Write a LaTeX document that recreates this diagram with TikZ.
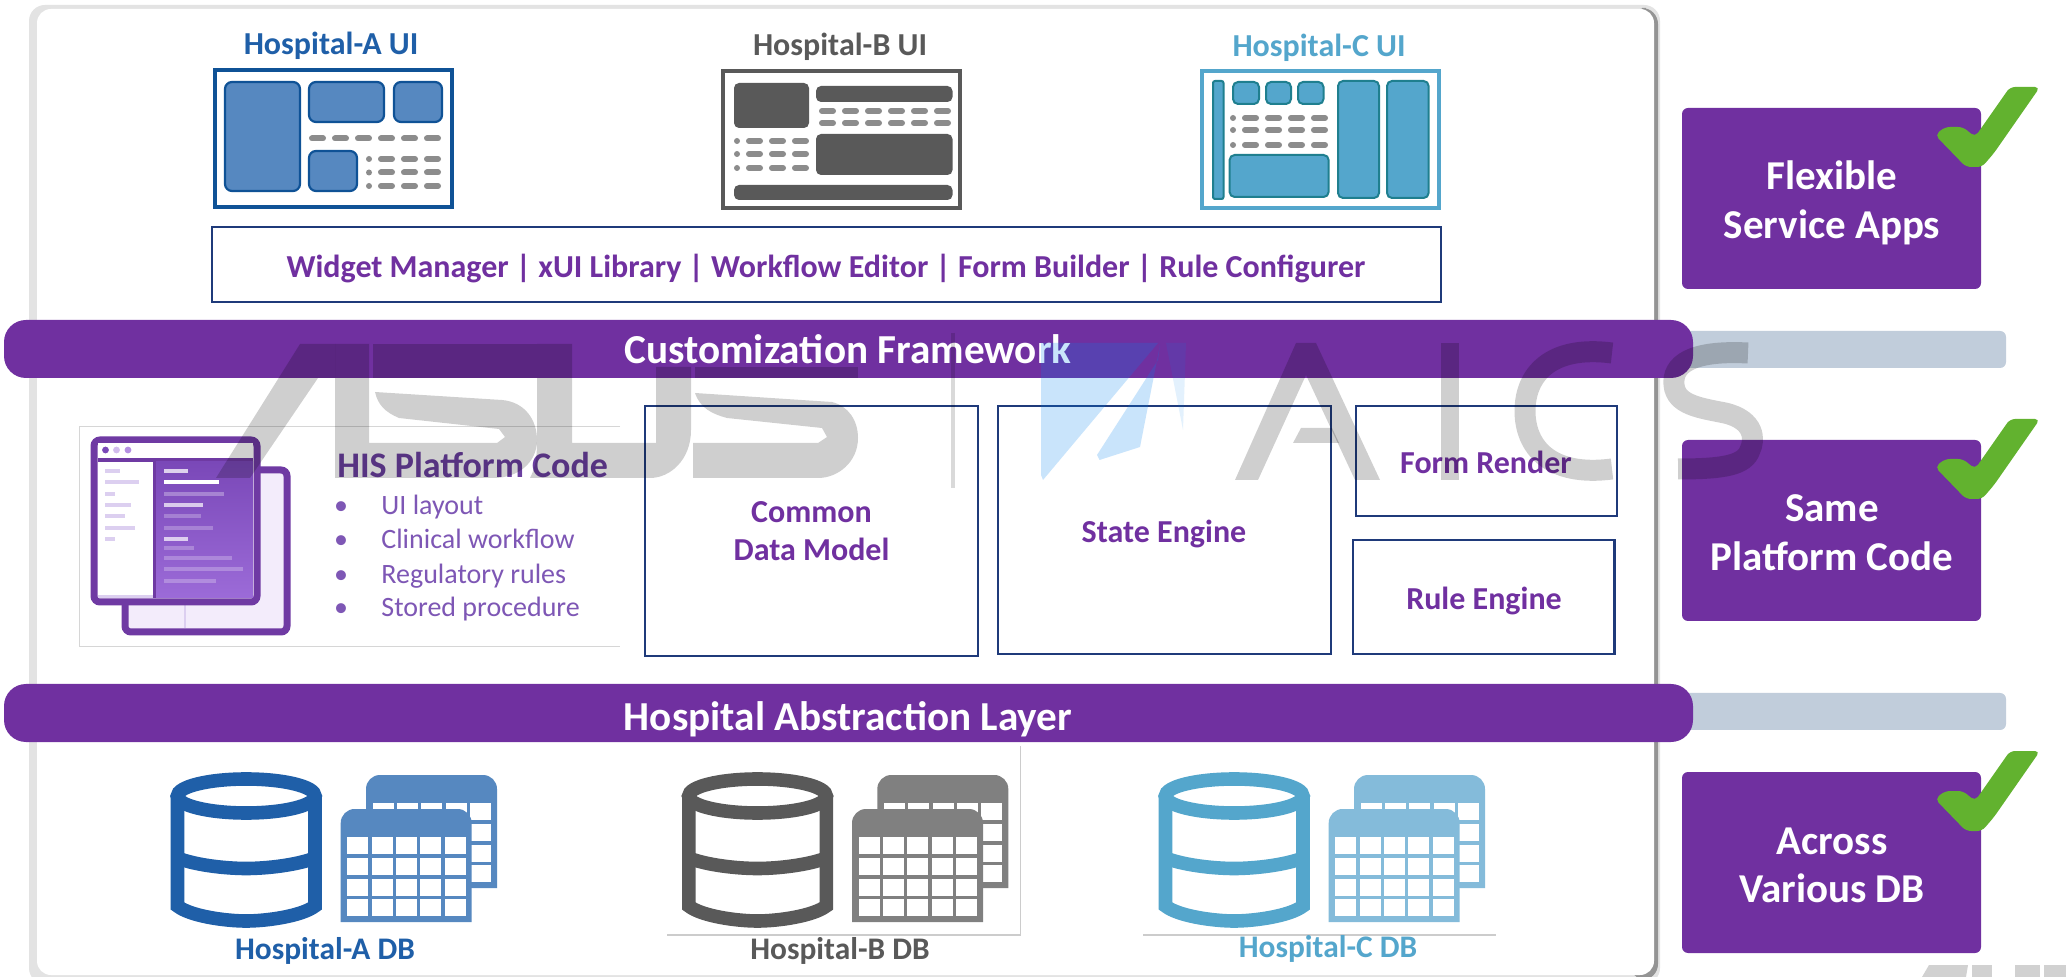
\documentclass[tikz,border=0pt]{standalone}
\usepackage{fontspec}
\setmainfont{Carlito}
\definecolor{hpurple}{HTML}{7030A0}
\definecolor{navy}{HTML}{1F3A7A}
\definecolor{hosA}{HTML}{1F5FA8}
\definecolor{hosAl}{HTML}{5688C0}
\definecolor{hosAs}{HTML}{0F5296}
\definecolor{hosB}{HTML}{595959}
\definecolor{hosBl}{HTML}{808080}
\definecolor{hosC}{HTML}{54A6CC}
\definecolor{hosCl}{HTML}{84BBDA}
\definecolor{hosCs}{HTML}{1F7F8F}
\definecolor{dashgrey}{HTML}{8C8C8C}
\definecolor{barback}{HTML}{C1CDDB}
\definecolor{checkgreen}{HTML}{62B22F}
\definecolor{hisT}{HTML}{6B3FA0}
\definecolor{hisB}{HTML}{7E57B5}
\definecolor{winB}{HTML}{6F3AA3}
\definecolor{winBack}{HTML}{F3ECFB}
\definecolor{winTop}{HTML}{7A48B8}
\definecolor{winBot}{HTML}{9C6BD8}
\definecolor{winLine}{HTML}{DCCFF0}
\definecolor{wblue}{RGB}{0,131,240}
\newcommand{\fs}[1]{\fontsize{#1}{#1}\selectfont}
\newcommand{\dashrow}[3]{\foreach \xx in {#2}{\draw[dashline] (\xx+3,#1) -- (\xx+#3-3,#1);}}
\newcommand{\dbicon}[3]{%
 \begin{scope}[shift={(#1,0)}]
 \foreach \tx/\ty in {366/775,340.7/809}{
  \begin{scope}[shift={(\tx,\ty)}]
  \fill[#3] (0,113) [rounded corners=7pt] -- (0,0) -- (131,0) -- (131,50) [sharp corners] -- (131,113) -- cycle;
  \foreach \i in {0,...,4}{\foreach \j in {0,...,3}{
    \fill[white] (6.7+24.33*\i,28.3+20.6*\j) rectangle ++(21,17);}}
  \end{scope}}
 \draw[#2,line width=6.8pt] (246.2,796) ellipse [x radius=34.4pt,y radius=8.5pt];
 \draw[#2,line width=6.8pt] (177.5,796) -- (177.5,906) .. controls (190,916) and (225,921) .. (246.2,921) .. controls (267,921) and (302,916) .. (315,906) -- (315,796);
 \draw[#2,line width=6.8pt] (177.5,858) .. controls (195,865) and (225,868.5) .. (246.2,868.5) .. controls (267,868.5) and (297,865) .. (315,858);
 \end{scope}}
\newcommand{\checkmk}[1]{%
 \fill[checkgreen,shift={(0,#1)},rounded corners=2.5pt] (1935,135) -- (1945,127) -- (1963,127) -- (1975,137) -- (2010,87) -- (2040,87) -- (1994,153) -- (1982,167) -- (1966,167) -- cycle;}
\tikzset{
 x=0.5pt,y=-0.5pt,
 dashline/.style={dashgrey,line width=3pt,line cap=round},
 dotm/.style={dashgrey},
 uiframe/.style={line width=1.6pt,fill=white},
 blockA/.style={fill=hosAl,draw=hosAs,line width=1.1pt,rounded corners=3.5pt},
 blockB/.style={fill=hosB,rounded corners=2.5pt},
 blockC/.style={fill=hosC,draw=hosCs,line width=1pt,rounded corners=2.5pt},
 layerbox/.style={draw=navy,line width=1.2pt},
 boxtxt/.style={hpurple,font=\bfseries\fs{16},anchor=base,inner sep=0pt,yshift=-.5pt},
 banner/.style={fill=hpurple,rounded corners=11pt},
 bartxt/.style={white,font=\bfseries\fs{20.6},anchor=base,inner sep=0pt,yshift=-1pt},
 sidebox/.style={fill=hpurple,rounded corners=3pt},
 sidetxt/.style={white,font=\bfseries\fs{20.5},anchor=base,inner sep=0pt,yshift=-1pt},
 huititle/.style={font=\bfseries\fs{16},anchor=base,inner sep=0pt},
 dbtxt/.style={font=\bfseries\fs{15.7},anchor=base,inner sep=0pt},
 histxt/.style={hisB,font=\fs{14},anchor=base west,inner sep=0pt},
 hisbul/.style={hisB,font=\fs{14},anchor=base,inner sep=0pt},
 wmark/.style={fill=black,fill opacity=.19},
 wstroke/.style={draw=black,draw opacity=.19,line width=10.5pt},
 cardline/.style={draw=black!16,line width=.5pt},
}
\begin{document}
\begin{tikzpicture}
\useasboundingbox (0,0) rectangle (2066,977);
\fill[white] (0,0) rectangle (2066,977);
% panel
\fill[black!11,rounded corners=8pt] (29,5) rectangle (1660,984);
\fill[black!42,rounded corners=8pt] (1630,8) rectangle (1658,980);
\fill[white,rounded corners=7pt] (37,9) rectangle (1654,975);
% grey bars
\fill[barback,rounded corners=3pt] (1600,331) rectangle (2006,368);
\fill[barback,rounded corners=3pt] (1600,693) rectangle (2006,730);
% banners
\fill[banner] (4,320) rectangle (1693,378);
\fill[banner] (4,684) rectangle (1693,742);
\node[bartxt] (customtxt) at (848,362) {Customization Framework};
\node[bartxt] (abstxt) at (848,729) {Hospital Abstraction Layer};
% Hospital A UI
\node[huititle,hosA] (uiA) at (331,55) {Hospital-A UI};
\draw[uiframe,draw=hosAs] (215,70) rectangle (452,207);
\draw[blockA] (225,82) rectangle (300,191);
\draw[blockA] (309,82) rectangle (384,122);
\draw[blockA] (394,82) rectangle (442,122);
\draw[blockA] (309,151) rectangle (357,191);
\dashrow{138.5}{309,332,355,378,401,424}{17}
\foreach \yy in {159,172.5,186}{\fill[dotm] (369,\yy) circle (1.5pt);\dashrow{\yy}{378,401,424}{17}}
% Hospital B UI
\node[huititle,hosB] (uiB) at (840,56) {Hospital-B UI};
\draw[uiframe,draw=hosB] (723,71) rectangle (960,208);
\fill[blockB] (734,83) rectangle (809,128);
\fill[blockB] (816,86) rectangle (952.5,102);
\fill[blockB] (816,134) rectangle (952.5,175);
\fill[blockB] (734,185) rectangle (952.5,200);
\foreach \yy in {111,123}{\dashrow{\yy}{819,842,865,888,911,934}{17}}
\foreach \yy in {141,154,168}{\fill[dotm] (737,\yy) circle (1.5pt);\dashrow{\yy}{746,769,792}{17}}
% Hospital C UI
\node[huititle,hosC] (uiC) at (1319,57) {Hospital-C UI};
\draw[uiframe,draw=hosC] (1202,71) rectangle (1439,208);
\draw[blockC,rounded corners=1pt] (1213,81) rectangle (1223.5,199);
\draw[blockC] (1233,82) rectangle (1259,104);
\draw[blockC] (1266,82) rectangle (1291,104);
\draw[blockC] (1298,82) rectangle (1323.5,104);
\draw[blockC] (1229.6,155) rectangle (1328.6,197);
\draw[blockC] (1338,81) rectangle (1379,198);
\draw[blockC] (1387,81) rectangle (1428.6,198);
\foreach \yy in {118,130,145}{\fill[dotm] (1233,\yy) circle (1.5pt);\dashrow{\yy}{1242,1265,1288,1311}{17}}
% toolbar
\draw[layerbox] (212,227) rectangle (1441,302);
\node[boxtxt] (tools) at (826,277) {Widget Manager | xUI Library | Workflow Editor | Form Builder | Rule Configurer};
% HIS card
\draw[cardline] (620,427) -- (79,427) -- (79,647) -- (620,647);
\draw[winB,line width=3.5pt,fill=winBack,rounded corners=3pt] (125,470) rectangle (287,632);
\fill[winLine] (184,605) rectangle (186,628);
\draw[winB,line width=3.5pt,fill=white,rounded corners=3pt] (94,440) rectangle (257,602);
\fill[white] (97.5,443) rectangle (253,458);
\fill[winB] (97.5,458) rectangle (253,462);
\fill[white] (97.5,462) rectangle (153,595);
\fill[winLine] (97.5,595) rectangle (153,598);
\fill[winB] (153,462) rectangle (156,598);
\shade[top color=winTop,bottom color=winBot] (156,462) rectangle (253,598);
\fill[winTop] (105.5,450) circle (1.7pt);
\fill[winBot!45] (116.5,450) circle (1.7pt);
\fill[winBot!75] (128,450) circle (1.7pt);
\foreach \yy/\xe in {471/120,482/139,494/115,505/131,516/125,528/135,539/115}{\fill[winLine] (105,\yy-1.7) rectangle (\xe,\yy+1.7);}
\foreach \yy/\xe/\cc in {471/188/75,482/219/100,494/224/30,505/203/70,516/201/25,528/213/25,539/188/70,548/194/25,558/232/25,569/243/25,581/216/25}{\fill[white,opacity=\cc/100] (164,\yy-1.7) rectangle (\xe,\yy+1.7);}
\node[hisT,font=\bfseries\fs{18},anchor=base west,inner sep=0pt] (histitle) at (337,478) {HIS Platform Code};
\node[hisbul] (b1) at (341,515) {•};
\node[hisbul] (b2) at (341,549) {•};
\node[hisbul] (b3) at (341,584) {•};
\node[hisbul] (b4) at (341,617) {•};
\node[histxt] (his1) at (381,515) {UI layout};
\node[histxt] (his2) at (381,549) {Clinical workflow};
\node[histxt] (his3) at (381,584) {Regulatory rules};
\node[histxt] (his4) at (381,617) {Stored procedure};
% engines
\draw[layerbox] (645,406) rectangle (978,656);
\draw[layerbox] (998,406) rectangle (1331,654);
\draw[layerbox] (1356,406) rectangle (1617,516);
\draw[layerbox] (1353,540) rectangle (1614.5,654);
\node[boxtxt] (cm1) at (811.5,522) {Common};
\node[boxtxt] (cm2) at (811.5,560) {Data Model};
\node[boxtxt] (state) at (1164,542) {State Engine};
\node[boxtxt] (form) at (1486,473) {Form Render};
\node[boxtxt] (rule) at (1484,609) {Rule Engine};
% databases
\draw[black!20,line width=.6pt] (667,935) -- (1020.7,935) -- (1020.7,746);
\draw[black!20,line width=.6pt] (1143,935) -- (1496,935);
\dbicon{0}{hosA}{hosAl}
\dbicon{511.3}{hosB}{hosBl}
\dbicon{988}{hosC}{hosCl}
\node[dbtxt,hosA] (dbA) at (325,959) {Hospital-A DB};
\node[dbtxt,hosB] (dbB) at (840,959) {Hospital-B DB};
\node[dbtxt,hosC] (dbC) at (1328,957) {Hospital-C DB};
% side boxes
\fill[sidebox] (1682,108) rectangle (1981,289);
\fill[sidebox] (1682,440) rectangle (1981,621);
\fill[sidebox] (1682,772) rectangle (1981,953);
\checkmk{0}
\checkmk{332}
\checkmk{664}
\node[sidetxt] (s1a) at (1832,188) {Flexible};
\node[sidetxt] (s1b) at (1832,237) {Service Apps};
\node[sidetxt] (s2a) at (1832,520) {Same};
\node[sidetxt] (s2b) at (1832,569) {Platform Code};
\node[sidetxt] (s3a) at (1832,852) {Across};
\node[sidetxt] (s3b) at (1832,900) {Various DB};
% watermark
\fill[wmark] (216,478) -- (300,344) -- (335,344) -- (335,378) -- (318,378) -- (250,478) -- cycle;
\fill[wmark] (335,344) -- (369,344) -- (369,443) -- (497,443) -- (505,437) -- (499,429) -- (399,418) .. controls (385,412) and (378,405) .. (375,392) -- (502,400) .. controls (525,402) and (537,420) .. (537,440) .. controls (537,465) and (515,478) .. (494,478) -- (335,478) -- cycle;
\fill[wmark] (373,344) rectangle (537,378);
\fill[wmark] (537,344) -- (572,344) -- (572,443) -- (656,443) -- (656,367) -- (691,367) -- (691,430) .. controls (691,460) and (670,478) .. (650,478) -- (530,478) .. controls (537,465) and (537,450) .. (537,440) -- cycle;
\fill[wmark] (695,367) rectangle (858,378);
\fill[wmark] (695,393) -- (832,402) .. controls (848,406) and (858,420) .. (858,438) .. controls (858,462) and (838,478) .. (818,478) -- (693,478) -- (693,443) -- (818,443) -- (827,437) -- (822,428) -- (727,418) .. controls (712,414) and (700,408) .. (695,393) -- cycle;
\draw[black,opacity=.15,line width=2pt] (952.5,333) -- (952.5,488);
\fill[wblue,fill opacity=.21] (1041,343) -- (1158,343) -- (1043,480) -- (1041,475) -- cycle;
\fill[wblue,fill opacity=.21] (1158,360) -- (1160,345) -- (1140,447) -- (1099.5,460) -- (1097,455) -- cycle;
\fill[wblue,fill opacity=.11] (1166,343) -- (1186,343) -- (1183,430) -- cycle;
\fill[wmark] (1235,480) -- (1296,343) -- (1316,343) -- (1380,480) -- (1355,480) -- (1306,375) -- (1258,480) -- cycle;
\fill[wmark] (1293,443) -- (1301,428) -- (1332,428) -- (1339,443) -- cycle;
\fill[wmark] (1441,343) rectangle (1459,480);
\draw[wstroke] (1612,353) .. controls (1550,345) and (1525,375) .. (1525,411) .. controls (1525,447) and (1550,477) .. (1612,469);
\draw[wstroke] (1748,353) .. controls (1690,350) and (1672,365) .. (1674,385) .. controls (1676,405) and (1700,408) .. (1725,413) .. controls (1755,420) and (1755,440) .. (1750,450) .. controls (1745,465) and (1725,469) .. (1678,469);
% small corner logo
\fill[black!18] (1922,977) -- (1929,965) -- (1968,965) -- (1966,977) -- cycle;
\fill[black!18] (1972,965) rectangle (1992,977);
\fill[black!18] (2015,965) rectangle (2040,977);
\fill[black!18] (2044,965) rectangle (2066,977);
\end{tikzpicture}
\end{document}
